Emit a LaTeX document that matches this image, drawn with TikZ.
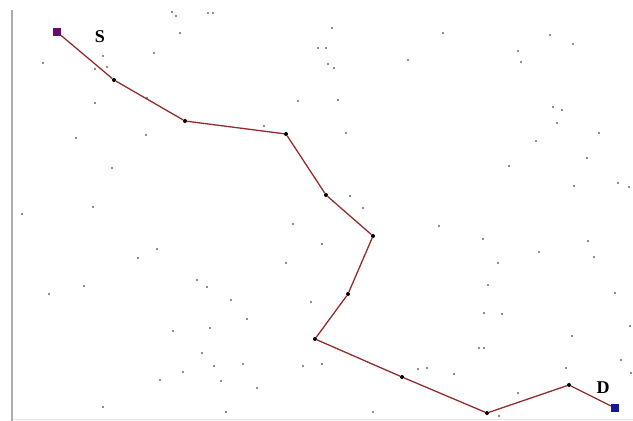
\documentclass[tikz,border=0pt]{standalone}
\usepackage{fontspec}
\setmainfont{Liberation Serif}
\usepackage{tikz}
\usetikzlibrary{arrows.meta,positioning,calc}

\begin{document}
\begin{tikzpicture}[x=1pt,y=-1pt,
    every node/.style={font=\fontsize{18}{20}\selectfont\bfseries},
    hop/.style={circle, fill=black, inner sep=0pt, minimum size=4pt},
    endpt/.style={rectangle, fill=#1, inner sep=0pt, minimum size=8pt},
    route/.style={draw=routeC, line width=1.3pt}]
  \definecolor{routeC}{RGB}{145,45,45}\definecolor{srcC}{RGB}{105,10,105}\definecolor{dstC}{RGB}{25,25,140}
  \useasboundingbox (0,0) rectangle (633,421);
  % frame
  \draw[gray!65, line width=1.8pt] (12,10) -- (12,421);
  \draw[gray!20, line width=0.6pt] (13,419.5) -- (633,419.5);
  % scattered nodes
  \foreach \x/\y in {172/12,176/16,208/13,180/33,43/63,103/56,95/69,107/67,154/53,147/98,
      95/103,146/135,76/138,112/168,93/207,213/13,332/28,318/48,326/48,328/64,334/68,408/60,
      298/101,338/100,264/126,346/133,350/196,363/208,443/33,550/35,573/44,518/51,521/62,
      553/107,562/110,557/123,599/133,536/141,587/158,509/166,574/186,618/183,629/187,
      22/214,157/249,138/258,84/286,49/294,197/280,207/287,210/328,173/331,202/353,183/372,
      160/380,103/407,293/224,322/244,286/263,231/300,311/302,247/319,214/366,243/364,
      303/366,322/364,221/381,257/388,226/412,373/412,418/369,439/226,483/239,588/241,
      539/252,498/263,594/257,488/285,615/293,484/313,502/314,630/326,572/336,479/348,
      484/348,621/360,566/368,454/374,427/368,518/393,499/416,631/373}
    \fill[black!60] (\x,\y) circle (1.1);
  % route
  \node[endpt=srcC] (src) at (57,32) {};
  \node[hop] (h1) at (114,80) {};
  \node[hop] (h2) at (185,121) {};
  \node[hop] (h3) at (286,134) {};
  \node[hop] (h4) at (326,195) {};
  \node[hop] (h5) at (373,236) {};
  \node[hop] (h6) at (348,294) {};
  \node[hop] (h7) at (315,339) {};
  \node[hop] (h8) at (402,377) {};
  \node[hop] (h9) at (487,413) {};
  \node[hop] (h10) at (569,385) {};
  \node[endpt=dstC] (dst) at (615,408) {};
  \draw[route] (src) -- (h1) -- (h2) -- (h3) -- (h4) -- (h5) -- (h6) -- (h7) -- (h8) -- (h9) -- (h10) -- (dst);
  \node (srcLbl) at (100,37) {S};
  \node (dstLbl) at (603,388) {D};
\end{tikzpicture}
\end{document}
